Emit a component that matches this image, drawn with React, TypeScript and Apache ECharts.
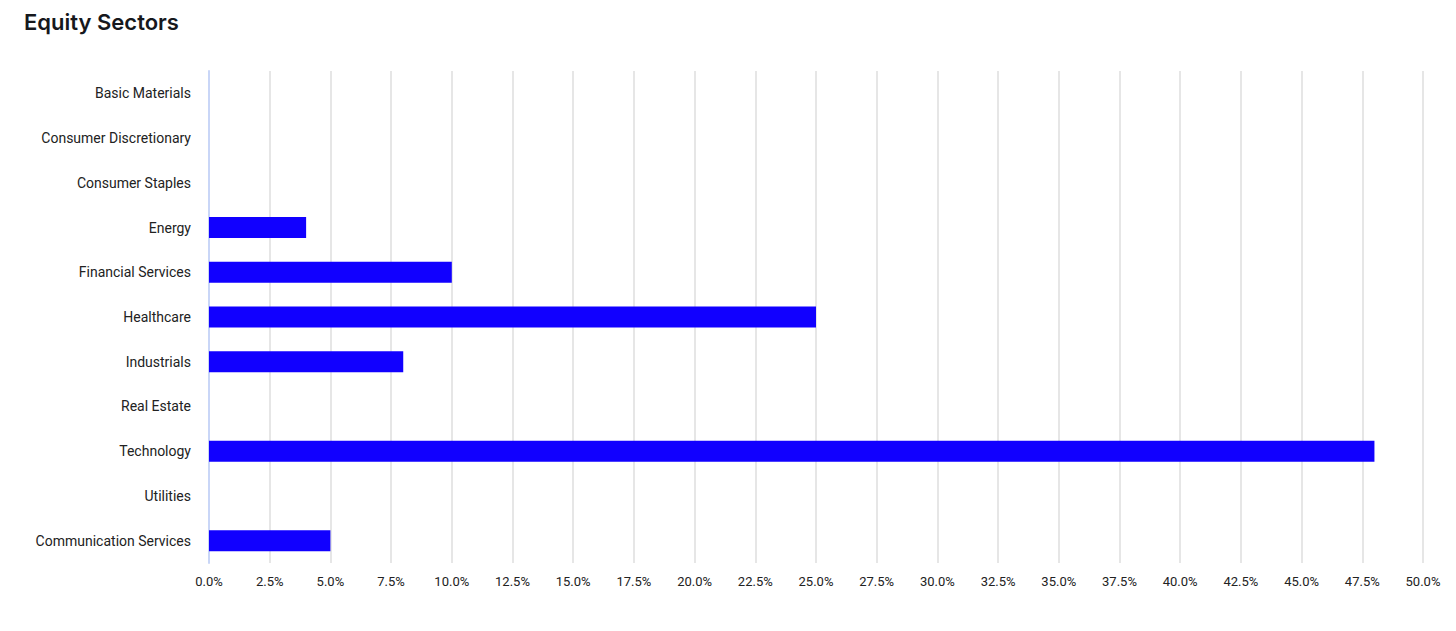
import React, { useEffect, useRef } from "react";
import * as echarts from "echarts";

const categories = [
  "Basic Materials",
  "Consumer Discretionary",
  "Consumer Staples",
  "Energy",
  "Financial Services",
  "Healthcare",
  "Industrials",
  "Real Estate",
  "Technology",
  "Utilities",
  "Communication Services",
];
const values = [0, 0, 0, 4.0, 10.0, 25.0, 8.0, 0, 48.0, 0, 5.0];
const title = "Equity Sectors";

export default function App() {
  const ref = useRef<HTMLDivElement>(null);
  useEffect(() => {
    if (!ref.current) return;
    const chart = echarts.init(ref.current, null, { renderer: "svg" });
    chart.setOption({
      animation: false,
      backgroundColor: "#ffffff",
      title: {
        text: title,
        left: 19,
        top: 6,
        textStyle: {
          fontFamily: "Inter",
          fontSize: 22,
          fontWeight: 600,
          color: "#16181d",
        },
      },
      grid: { left: 209, right: 33, top: 71, bottom: 68, containLabel: false },
      xAxis: {
        type: "value",
        min: 0,
        max: 50,
        interval: 2.5,
        axisLine: { show: false },
        axisTick: { show: false },
        splitLine: { show: true, lineStyle: { color: "#e6e6e6", width: 2 } },
        axisLabel: {
          formatter: (v: number) => v.toFixed(1) + "%",
          fontFamily: "Roboto",
          fontSize: 13,
          color: "#222222",
          margin: 12,
        },
      },
      yAxis: {
        type: "category",
        data: categories,
        inverse: true,
        axisLine: { show: true, lineStyle: { color: "#c9d6f7", width: 2 } },
        axisTick: { show: false },
        splitLine: { show: false },
        axisLabel: {
          fontFamily: "Roboto",
          fontSize: 14,
          color: "#222222",
          margin: 18,
        },
      },
      series: [
        {
          type: "bar",
          data: values,
          barWidth: 21,
          itemStyle: {
            color: "#1100ff",
            borderWidth: 0,
          },
        },
      ],
    });
    return () => chart.dispose();
  }, []);
  return (
    <div
      ref={ref}
      style={{ position: "fixed", left: 0, top: 0, width: 1456, height: 631 }}
    />
  );
}
